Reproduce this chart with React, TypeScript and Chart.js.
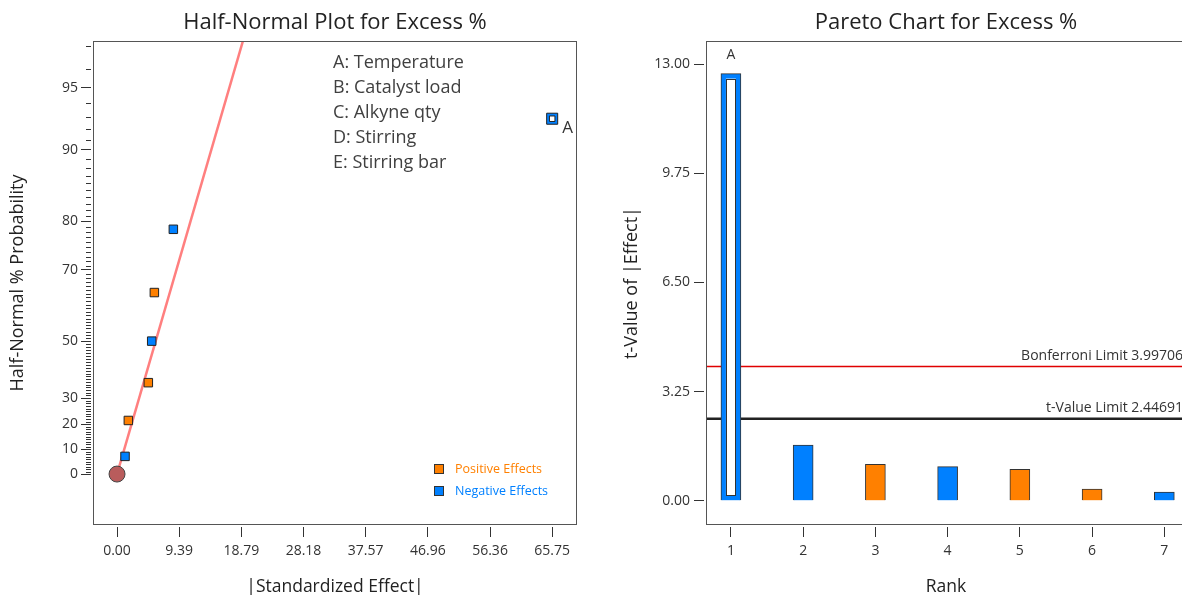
import React, { useEffect, useRef } from 'react';
import { Chart, registerables, LinearScale } from 'chart.js';

Chart.register(...registerables);

// ---------------- data ----------------
const FACTORS = ['A: Temperature', 'B: Catalyst load', 'C: Alkyne qty', 'D: Stirring', 'E: Stirring bar'];

// Half-normal plot: |standardized effect| vs half-normal % probability
const HN_EFFECTS = [1.21, 1.71, 4.73, 5.24, 5.64, 8.51, 65.75];
const HN_PROBS = [7.14, 21.43, 35.71, 50.0, 64.29, 78.57, 92.86];
const HN_SIGNS = ['neg', 'pos', 'pos', 'neg', 'pos', 'neg', 'neg'];
const HN_LABELS = ['', '', '', '', '', '', 'A'];
const HN_ORIGIN_EFFECT = [0];
const HN_ORIGIN_PROB = [0];
const FIT_EFFECTS = [0, 22.3];
const FIT_PROBS = [0, 99];
const HN_X_TICKS = [0, 9.39, 18.79, 28.18, 37.57, 46.96, 56.36, 65.75];
const HN_Y_TICKS = [0, 10, 20, 30, 50, 70, 80, 90, 95];
const HN_Y_MINOR = [
  1, 2, 3, 4, 5, 6, 7, 8, 9, 11, 12, 13, 14, 15, 16, 17, 18, 19, 21, 22, 23, 24, 25, 26, 27, 28, 29,
  31, 32, 33, 34, 35, 36, 37, 38, 39, 40, 41, 42, 43, 44, 45, 46, 47, 48, 49, 51, 52, 53, 54, 55, 56,
  57, 58, 59, 60, 61, 62, 63, 64, 65, 66, 67, 68, 69, 71, 72, 73, 74, 75, 76, 77, 78, 79, 81, 82, 83,
  84, 85, 86, 87, 88, 89, 91, 92, 93, 94, 96, 97,
];
const HN_LEGEND = ['Positive Effects', 'Negative Effects'];

// Pareto chart
const RANKS = [1, 2, 3, 4, 5, 6, 7];
const T_VALUES = [12.72, 1.66, 1.09, 1.02, 0.94, 0.35, 0.26];
const T_SIGNS = ['neg', 'neg', 'pos', 'neg', 'pos', 'pos', 'neg'];
const T_LABELS = ['A', '', '', '', '', '', ''];
const T_Y_TICKS = [0, 3.25, 6.5, 9.75, 13];
const BONFERRONI = 3.99706;
const T_LIMIT = 2.44691;

// ---------------- styles ----------------
const FONT = "'Open Sans', 'Noto Sans', sans-serif";
const POS = '#FF8000';
const NEG = '#0080FF';
const TXT = '#333333';
const BOX = '#555555';

// ---------------- half-normal probability scale ----------------
function normCdf(x: number): number {
  const t = 1 / (1 + 0.2316419 * Math.abs(x));
  const d = 0.3989422804014327 * Math.exp((-x * x) / 2);
  const p = d * t * (0.31938153 + t * (-0.356563782 + t * (1.781477937 + t * (-1.821255978 + t * 1.330274429))));
  return x >= 0 ? 1 - p : p;
}
function normInv(p: number): number {
  const a = [-39.69683028665376, 220.9460984245205, -275.9285104469687, 138.357751867269, -30.66479806614716, 2.506628277459239];
  const b = [-54.47609879822406, 161.5858368580409, -155.6989798598866, 66.80131188771972, -13.28068155288572];
  const c = [-0.007784894002430293, -0.3223964580411365, -2.400758277161838, -2.549732539343734, 4.374664141464968, 2.938163982698783];
  const d = [0.007784695709041462, 0.3224671290700398, 2.445134137142996, 3.754408661907416];
  const pl = 0.02425;
  const ph = 1 - pl;
  let q: number;
  let r: number;
  if (p < pl) {
    q = Math.sqrt(-2 * Math.log(p));
    return (((((c[0] * q + c[1]) * q + c[2]) * q + c[3]) * q + c[4]) * q + c[5]) / ((((d[0] * q + d[1]) * q + d[2]) * q + d[3]) * q + 1);
  }
  if (p <= ph) {
    q = p - 0.5;
    r = q * q;
    return ((((((a[0] * r + a[1]) * r + a[2]) * r + a[3]) * r + a[4]) * r + a[5]) * q) / (((((b[0] * r + b[1]) * r + b[2]) * r + b[3]) * r + b[4]) * r + 1);
  }
  q = Math.sqrt(-2 * Math.log(1 - p));
  return -(((((c[0] * q + c[1]) * q + c[2]) * q + c[3]) * q + c[4]) * q + c[5]) / ((((d[0] * q + d[1]) * q + d[2]) * q + d[3]) * q + 1);
}
const probToZ = (pct: number) => {
  const a = Math.min(Math.abs(pct), 99.9999) / 100;
  if (a === 0) return 0;
  return Math.sign(pct) * normInv(0.5 + a / 2);
};
const zToProb = (z: number) => Math.sign(z) * (2 * normCdf(Math.abs(z)) - 1) * 100;

class HalfNormalScale extends LinearScale {
  static id = 'halfNormal';
  static defaults = LinearScale.defaults;
  determineDataLimits() {
    (this as any).min = (this as any).options.min;
    (this as any).max = (this as any).options.max;
  }
  buildTicks() {
    return [];
  }
  configure() {
    super.configure();
    (this as any)._zStart = probToZ((this as any).min);
    (this as any)._zRange = probToZ((this as any).max) - (this as any)._zStart;
  }
  getPixelForValue(value: any) {
    if (value === null || value === undefined || isNaN(value)) return NaN;
    return (this as any).getPixelForDecimal((probToZ(value) - (this as any)._zStart) / (this as any)._zRange);
  }
  getValueForPixel(pixel: number) {
    return zToProb((this as any)._zStart + (this as any).getDecimalForPixel(pixel) * (this as any)._zRange);
  }
}
Chart.register(HalfNormalScale as any);

// ---------------- helpers ----------------
const font = (size: number) => ({ family: FONT, size, weight: 'normal' as const });
const boxPlugin = (title: string) => ({
  id: 'boxTitle',
  afterDraw(chart: any) {
    const { ctx, chartArea: ca } = chart;
    ctx.save();
    ctx.strokeStyle = BOX;
    ctx.lineWidth = 1;
    ctx.strokeRect(Math.round(ca.left) + 0.5, Math.round(ca.top) + 0.5, Math.round(ca.right - ca.left) - 1, Math.round(ca.bottom - ca.top) - 1);
    ctx.fillStyle = '#222';
    ctx.font = `22px ${FONT}`;
    ctx.textAlign = 'center';
    ctx.textBaseline = 'middle';
    ctx.fillText(title, (ca.left + ca.right) / 2, 23);
    ctx.restore();
  },
});

function pts(xs: number[], ys: number[], keep: (i: number) => boolean) {
  const out: { x: number; y: number }[] = [];
  xs.forEach((x, i) => {
    if (keep(i)) out.push({ x, y: ys[i] });
  });
  return out;
}

function leftConfig(): any {
  const hollow = (i: number) => HN_LABELS[i] !== '';
  return {
    type: 'scatter',
    data: {
      datasets: [
        {
          type: 'line',
          data: pts(FIT_EFFECTS, FIT_PROBS, () => true),
          borderColor: '#FF7F7F',
          borderWidth: 2.5,
          pointRadius: 0,
          fill: false,
          order: 5,
        },
        {
          data: pts(HN_ORIGIN_EFFECT, HN_ORIGIN_PROB, () => true),
          pointStyle: 'circle',
          pointRadius: 8,
          backgroundColor: '#B95C5C',
          borderColor: '#444',
          borderWidth: 1,
          order: 3,
        },
        {
          data: pts(HN_EFFECTS, HN_PROBS, (i) => HN_SIGNS[i] === 'pos' && !hollow(i)),
          pointStyle: 'rect',
          pointRadius: 6,
          backgroundColor: POS,
          borderColor: '#222',
          borderWidth: 1,
          order: 2,
        },
        {
          data: pts(HN_EFFECTS, HN_PROBS, (i) => HN_SIGNS[i] === 'neg' && !hollow(i)),
          pointStyle: 'rect',
          pointRadius: 6,
          backgroundColor: NEG,
          borderColor: '#222',
          borderWidth: 1,
          order: 2,
        },
        {
          data: pts(HN_EFFECTS, HN_PROBS, hollow),
          pointStyle: 'rect',
          pointRadius: 7.8,
          backgroundColor: NEG,
          borderColor: '#222',
          borderWidth: 1,
          order: 1,
        },
        {
          data: pts(HN_EFFECTS, HN_PROBS, hollow),
          pointStyle: 'rect',
          pointRadius: 3.9,
          backgroundColor: '#fff',
          borderColor: '#222',
          borderWidth: 1,
          order: 0,
        },
      ],
    },
    options: {
      animation: false,
      responsive: false,
      devicePixelRatio: 1,
      events: [],
      layout: { padding: { top: 41, left: 0, right: 23, bottom: 0 } },
      plugins: { legend: { display: false }, tooltip: { enabled: false }, title: { display: false } },
      scales: {
        x: {
          type: 'linear',
          min: -3.63,
          max: 69.5,
          afterBuildTicks: (s: any) => {
            s.ticks = HN_X_TICKS.map((v) => ({ value: v }));
          },
          afterFit: (s: any) => {
            s.height = 70;
          },
          ticks: { callback: (v: number) => v.toFixed(2), font: font(14), color: TXT, padding: 6, autoSkip: false, maxRotation: 0 },
          grid: { drawOnChartArea: false, tickLength: 12, tickColor: '#333', tickBorderDash: [0, 2, 10, 10] },
          border: { display: false },
          title: { display: true, text: '|Standardized Effect|', font: font(17.5), color: '#222', padding: { top: 0, bottom: -3 } },
        },
        y: {
          type: 'halfNormal',
          min: -20.4,
          max: 97.2,
          afterBuildTicks: (s: any) => {
            s.ticks = HN_Y_TICKS.map((v) => ({ value: v }));
          },
          afterFit: (s: any) => {
            s.width = 93;
          },
          ticks: { callback: (v: number) => String(v), font: font(14), color: TXT, padding: 3, autoSkip: false },
          grid: { drawOnChartArea: false, tickLength: 12, tickColor: '#333', tickBorderDash: [10, 10] },
          border: { display: false },
          title: { display: true, text: 'Half-Normal % Probability', font: font(18), color: '#222', padding: { top: 7, bottom: 0 } },
        },
      },
    },
    plugins: [
      boxPlugin('Half-Normal Plot for Excess %'),
      {
        id: 'hnExtras',
        afterDraw(chart: any) {
          const { ctx, chartArea: ca, scales } = chart;
          const ys = scales.y;
          const xs = scales.x;
          ctx.save();
          // minor ticks
          ctx.strokeStyle = '#333';
          ctx.lineWidth = 1;
          ctx.beginPath();
          HN_Y_MINOR.forEach((p) => {
            const y = Math.round(ys.getPixelForValue(p)) + 0.5;
            ctx.moveTo(ca.left - 7, y);
            ctx.lineTo(ca.left - 2, y);
          });
          ctx.stroke();
          // factor list
          ctx.fillStyle = '#404040';
          ctx.font = `18px ${FONT}`;
          ctx.textAlign = 'left';
          ctx.textBaseline = 'middle';
          FACTORS.forEach((f, i) => ctx.fillText(f, ca.left + 240, ca.top + 22 + i * 25));
          // point labels
          ctx.fillStyle = TXT;
          ctx.font = `17px ${FONT}`;
          HN_LABELS.forEach((l, i) => {
            if (!l) return;
            ctx.fillText(l, xs.getPixelForValue(HN_EFFECTS[i]) + 10, ys.getPixelForValue(HN_PROBS[i]) + 9);
          });
          // legend
          ctx.font = `12.5px ${FONT}`;
          const legColors = [POS, NEG];
          HN_LEGEND.forEach((t, i) => {
            const cy = ca.bottom - 56 + i * 22;
            ctx.fillStyle = legColors[i];
            ctx.fillRect(ca.left + 341, cy - 5, 10, 10);
            ctx.strokeStyle = '#333';
            ctx.strokeRect(ca.left + 341.5, cy - 4.5, 9, 9);
            ctx.fillText(t, ca.left + 362, cy);
          });
          ctx.restore();
        },
      },
    ],
  };
}

function rightConfig(): any {
  return {
    type: 'bar',
    data: {
      datasets: [
        {
          data: pts(RANKS, T_VALUES, () => true),
          backgroundColor: T_SIGNS.map((s) => (s === 'pos' ? POS : NEG)),
          borderColor: '#333',
          borderWidth: 1,
          barThickness: 20,
        },
      ],
    },
    options: {
      animation: false,
      responsive: false,
      devicePixelRatio: 1,
      events: [],
      layout: { padding: { top: 41, left: 0, right: 34, bottom: 0 } },
      plugins: { legend: { display: false }, tooltip: { enabled: false }, title: { display: false } },
      scales: {
        x: {
          type: 'linear',
          min: 0.655,
          max: 7.3,
          offset: false,
          afterBuildTicks: (s: any) => {
            s.ticks = RANKS.map((v) => ({ value: v }));
          },
          afterFit: (s: any) => {
            s.height = 70;
          },
          ticks: { callback: (v: number) => String(v), font: font(14), color: TXT, padding: 6, autoSkip: false, maxRotation: 0 },
          grid: { offset: false, drawOnChartArea: false, tickLength: 12, tickColor: '#333', tickBorderDash: [0, 2, 10, 10] },
          border: { display: false },
          title: { display: true, text: 'Rank', font: font(17.5), color: '#222', padding: { top: 0, bottom: -3 } },
        },
        y: {
          type: 'linear',
          min: -0.72,
          max: 13.69,
          afterBuildTicks: (s: any) => {
            s.ticks = T_Y_TICKS.map((v) => ({ value: v }));
          },
          afterFit: (s: any) => {
            s.width = 106;
          },
          ticks: { callback: (v: number) => v.toFixed(2), font: font(14), color: TXT, padding: 4, autoSkip: false },
          grid: { drawOnChartArea: false, tickLength: 12, tickColor: '#333', tickBorderDash: [10, 10] },
          border: { display: false },
          title: { display: true, text: 't-Value of |Effect|', font: font(18), color: '#222', padding: { top: 21, bottom: 0 } },
        },
      },
    },
    plugins: [
      boxPlugin('Pareto Chart for Excess %'),
      {
        id: 'paretoExtras',
        beforeDatasetsDraw(chart: any) {
          const { ctx, chartArea: ca, scales } = chart;
          const lims = [
            { v: BONFERRONI, color: '#E00000', w: 1.5, text: 'Bonferroni Limit ' + BONFERRONI.toFixed(5) },
            { v: T_LIMIT, color: '#222', w: 2.5, text: 't-Value Limit ' + T_LIMIT.toFixed(5) },
          ];
          ctx.save();
          lims.forEach((l) => {
            const y = scales.y.getPixelForValue(l.v);
            ctx.strokeStyle = l.color;
            ctx.lineWidth = l.w;
            ctx.beginPath();
            ctx.moveTo(ca.left, y);
            ctx.lineTo(ca.right, y);
            ctx.stroke();
            ctx.fillStyle = TXT;
            ctx.font = `14px ${FONT}`;
            ctx.textAlign = 'right';
            ctx.textBaseline = 'alphabetic';
            ctx.fillText(l.text, ca.right - 3, y - 7);
          });
          ctx.restore();
        },
        afterDatasetsDraw(chart: any) {
          const { ctx } = chart;
          const meta = chart.getDatasetMeta(0);
          ctx.save();
          T_LABELS.forEach((lab, i) => {
            if (!lab) return;
            const el = meta.data[i];
            const { x, y, base, width } = el.getProps(['x', 'y', 'base', 'width'], true);
            const inset = 5;
            ctx.fillStyle = '#fff';
            ctx.fillRect(x - width / 2 + inset, y + inset, width - 2 * inset, base - y - 2 * inset);
            ctx.strokeStyle = '#333';
            ctx.lineWidth = 1;
            ctx.strokeRect(Math.round(x - width / 2 + inset) + 0.5, Math.round(y + inset) + 0.5, Math.round(width - 2 * inset) - 1, Math.round(base - y - 2 * inset) - 1);
            ctx.fillStyle = TXT;
            ctx.font = `14px ${FONT}`;
            ctx.textAlign = 'center';
            ctx.textBaseline = 'middle';
            ctx.fillText(lab, x, y - 19);
          });
          ctx.restore();
        },
      },
    ],
  };
}

export default function App() {
  const leftRef = useRef<HTMLCanvasElement>(null);
  const rightRef = useRef<HTMLCanvasElement>(null);
  useEffect(() => {
    const c1 = new Chart(leftRef.current as HTMLCanvasElement, leftConfig());
    const c2 = new Chart(rightRef.current as HTMLCanvasElement, rightConfig());
    return () => {
      c1.destroy();
      c2.destroy();
    };
  }, []);
  return (
    <div style={{ position: 'fixed', left: 0, top: 0, width: 1182, height: 595, overflow: 'hidden', background: '#fff' }}>
      <canvas ref={leftRef} width={600} height={595} style={{ position: 'absolute', left: 0, top: 0 }} />
      <canvas ref={rightRef} width={620} height={595} style={{ position: 'absolute', left: 600, top: 0 }} />
    </div>
  );
}
